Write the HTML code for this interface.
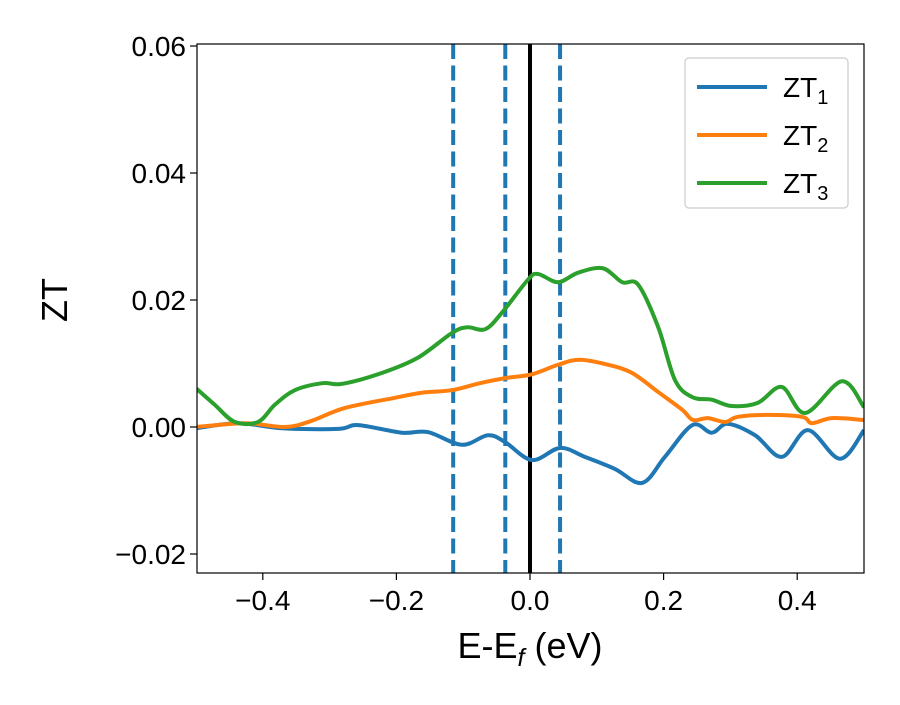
<!DOCTYPE html>
<html><head><meta charset="utf-8"><style>body{margin:0;background:#fff}svg{font-family:"Liberation Sans","DejaVu Sans",sans-serif}</style></head>
<body>
<svg id="chart" width="900" height="700" viewBox="0 0 900 700">
<rect width="900" height="700" fill="#fff"/>
<g id="plot"></g>
</svg>
<script>
const xTicks=[-0.4,-0.2,0.0,0.2,0.4];
const yTicks=[-0.02,0.00,0.02,0.04,0.06];
const vLines=[-0.115,-0.037,0.045];
const seriesNames=["ZT1","ZT2","ZT3"];
const blueX=[-0.5,-0.437,-0.371,-0.287,-0.257,-0.192,-0.153,-0.102,-0.063,-0.037,0.003,0.045,0.082,0.127,0.168,0.202,0.243,0.272,0.296,0.337,0.377,0.416,0.464,0.5];
const blueY=[-0.0002,0.0006,-0.0002,-0.0003,0.0003,-0.0009,-0.0008,-0.0028,-0.0013,-0.0024,-0.0052,-0.0033,-0.0047,-0.0066,-0.0088,-0.0047,0.0003,-0.0009,0.0005,-0.0013,-0.0047,-0.0005,-0.0050,-0.0005];
const orangeX=[-0.5,-0.427,-0.367,-0.329,-0.277,-0.202,-0.162,-0.117,-0.075,-0.037,0.003,0.042,0.075,0.117,0.153,0.192,0.228,0.244,0.266,0.292,0.311,0.352,0.407,0.422,0.452,0.5];
const orangeY=[0.0,0.0006,0.0,0.0009,0.003,0.0046,0.0054,0.0058,0.0069,0.0077,0.0083,0.0098,0.0106,0.0098,0.0085,0.0055,0.0027,0.0011,0.0014,0.0008,0.0016,0.0019,0.0016,0.0006,0.0014,0.0011];
const greenX=[-0.5,-0.472,-0.442,-0.407,-0.382,-0.352,-0.311,-0.281,-0.222,-0.168,-0.117,-0.094,-0.067,-0.042,-0.003,0.012,0.042,0.072,0.109,0.138,0.162,0.192,0.217,0.243,0.272,0.302,0.341,0.377,0.412,0.467,0.5];
const greenY=[0.0061,0.0035,0.0008,0.0008,0.0035,0.0058,0.0069,0.0068,0.0085,0.0109,0.0148,0.0157,0.0154,0.0180,0.0232,0.0241,0.0228,0.0243,0.0250,0.0228,0.0224,0.0157,0.0074,0.0047,0.0043,0.0033,0.0038,0.0063,0.0022,0.0072,0.0031];

const L=197,R=864,T=44,B=573;
const X=v=>530+v*668;
const Y=v=>427-v*6350;
const NS="http://www.w3.org/2000/svg";
const g=document.getElementById('plot');
function mk(tag,attrs,parent){const e=document.createElementNS(NS,tag);for(const k in attrs)e.setAttribute(k,attrs[k]);(parent||g).appendChild(e);return e;}
function smooth(xs,ys){const p=xs.map((x,i)=>[X(x),Y(ys[i])]);let d=`M${p[0][0]},${p[0][1]}`;for(let i=0;i<p.length-1;i++){const p0=p[Math.max(0,i-1)],p1=p[i],p2=p[i+1],p3=p[Math.min(p.length-1,i+2)];const c1=[p1[0]+(p2[0]-p0[0])/6,p1[1]+(p2[1]-p0[1])/6],c2=[p2[0]-(p3[0]-p1[0])/6,p2[1]-(p3[1]-p1[1])/6];d+=`C${c1[0]},${c1[1]} ${c2[0]},${c2[1]} ${p2[0]},${p2[1]}`;}return d;}

const clip=mk('clipPath',{id:'cp'});mk('rect',{x:L,y:T,width:R-L,height:B-T},clip);
const marks=mk('g',{'clip-path':'url(#cp)'});
vLines.forEach(v=>{const l=mk('line',{x1:X(v),x2:X(v),y1:T,y2:B,stroke:'#1f77b4','stroke-width':4,'stroke-dasharray':'15,6.5'},marks);

});
const z=mk('line',{x1:X(0),x2:X(0),y1:T,y2:B,stroke:'#000','stroke-width':4},marks);


[[blueX,blueY,'#1f77b4','zt1-line'],[orangeX,orangeY,'#ff7f0e','zt2-line'],[greenX,greenY,'#2ca02c','zt3-line']].forEach(s=>{
const p=mk('path',{d:smooth(s[0],s[1]),fill:'none',stroke:s[2],'stroke-width':4,'stroke-linejoin':'round'},marks);

});

const fr=mk('rect',{x:L,y:T,width:R-L,height:B-T,fill:'none',stroke:'#000','stroke-width':1.2});


const fmt=v=>(v<0?'−':'')+Math.abs(v).toFixed(v%0.1===0&&false?1:(Math.abs(v)<0.1&&String(v).length>4?2:1));
xTicks.forEach(v=>{mk('line',{x1:X(v),x2:X(v),y1:B,y2:B+7,stroke:'#000','stroke-width':1.2});
const t=mk('text',{x:X(v),y:B+37,'font-size':28,'text-anchor':'middle'});
t.textContent=(v<0?'−':'')+Math.abs(v).toFixed(1);

});
yTicks.forEach(v=>{mk('line',{x1:L-7,x2:L,y1:Y(v),y2:Y(v),stroke:'#000','stroke-width':1.2});
const t=mk('text',{x:L-11,y:Y(v)+10,'font-size':28,'text-anchor':'end'});
t.textContent=(v<0?'−':'')+Math.abs(v).toFixed(2);

});
const xl=mk('text',{x:530,y:658,'font-size':36,'text-anchor':'middle'});
xl.innerHTML='E-E<tspan font-size="25" font-style="italic" dy="8">f</tspan><tspan dy="-8"> (eV)</tspan>';


const yl=mk('text',{x:0,y:0,'font-size':36,'text-anchor':'middle',transform:'translate(67,300) rotate(-90)'});
yl.textContent='ZT';



const lg=mk('g',{});


mk('rect',{x:685,y:58,width:163,height:150,rx:4,fill:'#fff',stroke:'#ccc','stroke-width':1.2},lg);
const cols=['#1f77b4','#ff7f0e','#2ca02c'];
seriesNames.forEach((n,i)=>{const y=87+i*48;
const e=mk('g',{},lg);


mk('line',{x1:697,x2:767,y1:y,y2:y,stroke:cols[i],'stroke-width':4},e);
const t=mk('text',{x:783,y:y+10,'font-size':28},e);
t.innerHTML=n.slice(0,2)+'<tspan font-size="20" dy="7">'+n.slice(2)+'</tspan>';});
</script>
</body></html>
